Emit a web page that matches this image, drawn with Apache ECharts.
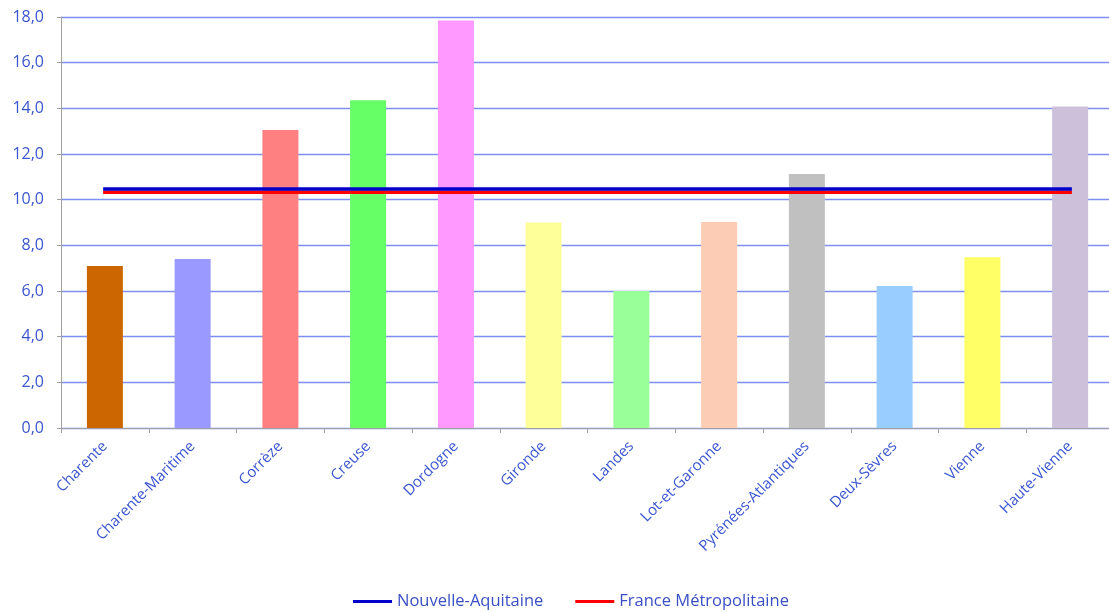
<!DOCTYPE html>
<html>
<head>
<meta charset="utf-8">
<script src="https://cdn.jsdelivr.net/npm/echarts@6/dist/echarts.min.js"></script>
<style>html,body{margin:0;padding:0;background:#fff;overflow:hidden;}#c{width:1115px;height:612px;}</style>
</head>
<body>
<div id="c"></div>
<script>
const categories = ["Charente","Charente-Maritime","Corrèze","Creuse","Dordogne","Gironde","Landes","Lot-et-Garonne","Pyrénées-Atlantiques","Deux-Sèvres","Vienne","Haute-Vienne"];
const departmentValues = [7.1, 7.4, 13.05, 14.35, 17.85, 9.0, 6.0, 9.02, 11.12, 6.22, 7.48, 14.08];
const barColors = ["#CC6600","#9999FF","#FF8080","#66FF66","#FF99FF","#FFFF99","#99FF99","#FCCCB4","#C0C0C0","#99CCFF","#FFFF66","#CCC0DA"];
const nouvelleAquitaine = [10.47,10.47,10.47,10.47,10.47,10.47,10.47,10.47,10.47,10.47,10.47,10.47];
const franceMetro = [10.32,10.32,10.32,10.32,10.32,10.32,10.32,10.32,10.32,10.32,10.32,10.32];
const seriesNames = ["Nouvelle-Aquitaine","France Métropolitaine"];

const chart = echarts.init(document.getElementById('c'), null, {renderer:'canvas'});
const font = "'Open Sans', 'Noto Sans', sans-serif";
chart.setOption({
  animation:false,
  backgroundColor:'#ffffff',
  grid:{left:61, right:1, top:17, bottom:184, containLabel:false},
  legend:{
    data:seriesNames,
    top:593,
    left:353,
    padding:0,
    itemGap:32,
    itemWidth:39,
    itemHeight:3,
    icon:'rect',
    textStyle:{color:'#3a4fc4', fontSize:16.5, fontFamily:font}
  },
  xAxis:{
    type:'category',
    data:categories,
    axisLine:{lineStyle:{color:'#a0a0a0', width:1}},
    axisTick:{show:true, length:5, lineStyle:{color:'#a0a0a0'}},
    axisLabel:{rotate:45, color:'#3a55d0', fontSize:15, fontFamily:font, interval:0, margin:16}
  },
  yAxis:{
    type:'value',
    min:0, max:18, interval:2,
    axisLine:{show:true, lineStyle:{color:'#a0a0a0'}},
    axisTick:{show:true, length:4, lineStyle:{color:'#a0a0a0'}},
    splitLine:{lineStyle:{color:'#7d8ff0', width:1.3}},
    axisLabel:{color:'#3a55d0', fontSize:16, fontFamily:font, margin:17,
      formatter:v=>v.toFixed(1).replace('.',',')}
  },
  series:[
    {
      type:'bar',
      name:'Départements',
      data:departmentValues.map((v,i)=>({value:v, itemStyle:{color:barColors[i]}})),
      barWidth:36,
      z:2
    },
    {
      type:'line', name:seriesNames[0], data:nouvelleAquitaine,
      symbol:'none', color:'#0000CC',
      lineStyle:{color:'#0000CC', width:3.5, cap:'square'}, z:4
    },
    {
      type:'line', name:seriesNames[1], data:franceMetro,
      symbol:'none', color:'#FF0000',
      lineStyle:{color:'#FF0000', width:3.5, cap:'square'}, z:3
    }
  ]
});
</script>
</body>
</html>
